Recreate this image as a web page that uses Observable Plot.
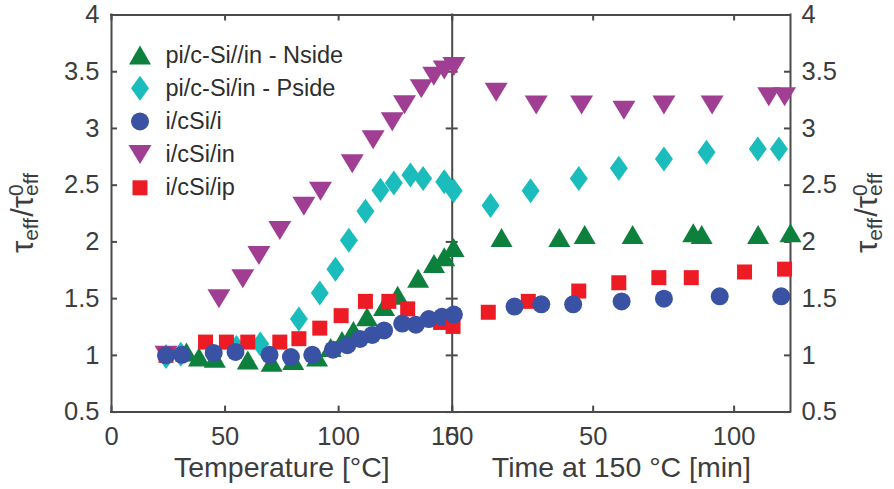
<!DOCTYPE html>
<html>
<head>
<meta charset="utf-8">
<script src="https://cdn.jsdelivr.net/npm/d3@7"></script>
<script src="https://cdn.jsdelivr.net/npm/@observablehq/plot@0.6"></script>
<style>
  body { margin: 0; background: #fff; }
  #wrap { position: relative; width: 894px; height: 489px; }
  #wrap svg { position: absolute; left: 0; top: 0; }
</style>
</head>
<body>
<div id="wrap"></div>
<script>
// ---------------- data ----------------
const seriesNames = ["pi/c-Si//in - Nside", "pi/c-Si/in - Pside", "i/cSi/i", "i/cSi/in", "i/cSi/ip"];

// pi/c-Si//in - Nside
const nsideTemp    = [33, 38.5, 45.5, 60, 70.5, 80, 90.5, 96.5, 101.5, 106.5, 112.5, 120, 126, 135, 142, 146.5];
const nsideTempVal = [1.03, 0.985, 0.975, 0.96, 0.94, 0.955, 0.985, 1.07, 1.13, 1.22, 1.34, 1.43, 1.53, 1.68, 1.81, 1.87];
const nsideTime    = [0.5, 17.5, 38, 47, 64, 85.5, 88.5, 108.5, 120];
const nsideTimeVal = [1.95, 2.04, 2.04, 2.065, 2.065, 2.08, 2.065, 2.065, 2.08];

// pi/c-Si/in - Pside
const psideTemp    = [24, 30.5, 55, 65.5, 82.5, 91.7, 98.6, 104.5, 111.8, 118.4, 124.3, 131.6, 137.2, 146.5];
const psideTempVal = [0.99, 1.01, 1.07, 1.10, 1.32, 1.55, 1.76, 2.015, 2.27, 2.455, 2.52, 2.59, 2.56, 2.53];
const psideTime    = [0.5, 13.6, 27.8, 44.9, 59.1, 75.1, 90.2, 108.4, 115.9];
const psideTimeVal = [2.45, 2.32, 2.45, 2.56, 2.65, 2.73, 2.79, 2.82, 2.82];

// i/cSi/i
const iiTemp    = [24, 31, 45, 54.6, 69.6, 79, 88.4, 97.5, 103.8, 109.4, 114.8, 120, 128, 134, 139.7, 145.5];
const iiTempVal = [1.0, 1.005, 1.02, 1.03, 1.005, 0.985, 1.005, 1.05, 1.09, 1.145, 1.18, 1.22, 1.28, 1.27, 1.32, 1.34];
const iiTime    = [0.6, 22.1, 31.6, 42.9, 60.1, 75.1, 94.9, 116.7];
const iiTimeVal = [1.36, 1.43, 1.45, 1.45, 1.475, 1.50, 1.52, 1.52];

// i/cSi/in
const inTemp    = [24, 47.3, 57.8, 64.9, 74.1, 84.7, 92, 106, 115.2, 123.6, 129, 136.4, 141.9, 146.5];
const inTempVal = [1.0, 1.50, 1.676, 1.88, 2.10, 2.315, 2.447, 2.69, 2.90, 3.06, 3.21, 3.35, 3.46, 3.515];
const inTime    = [0.6, 15.6, 29.8, 45.9, 60.9, 75.1, 92.2, 112.3, 117.9];
const inTimeVal = [3.545, 3.32, 3.206, 3.206, 3.16, 3.206, 3.206, 3.28, 3.28];

// i/cSi/ip
const ipTemp    = [24, 41.4, 50.6, 60, 74.1, 82.5, 91.7, 101.1, 111.8, 122.1, 130.4, 144.9];
const ipTempVal = [1.0, 1.117, 1.117, 1.117, 1.117, 1.147, 1.24, 1.35, 1.476, 1.476, 1.41, 1.29];
const ipTime    = [0.3, 12.8, 27, 44.9, 59.1, 73.3, 84.8, 103.7, 117.9];
const ipTimeVal = [1.255, 1.38, 1.476, 1.567, 1.64, 1.685, 1.685, 1.735, 1.76];

// axes
const yDomain = [0.5, 4];
const yTicks = [0.5, 1, 1.5, 2, 2.5, 3, 3.5, 4];
const tempDomain = [0, 150];
const tempTicks = [0, 50, 100, 150];
const timeDomain = [0, 120];
const timeTicks = [0, 50, 100];
const tempLabel = "Temperature [°C]";
const timeLabel = "Time at 150 °C [min]";

// ---------------- styles ----------------
const colors = ["#0e803e", "#1abcbc", "#3a52a4", "#a03e94", "#ed1c24"];
function poly(pts) {
  return { draw(ctx, size) {
    const k = Math.sqrt(size / Math.PI) / 9;
    ctx.moveTo(pts[0][0] * k, pts[0][1] * k);
    for (let i = 1; i < pts.length; i++) ctx.lineTo(pts[i][0] * k, pts[i][1] * k);
    ctx.closePath();
  }};
}
const triUp = poly([[0, -9.5], [11, 9.5], [-11, 9.5]]);
const diamond = poly([[0, -12.5], [9, 0], [0, 12.5], [-9, 0]]);
const circle = { draw(ctx, size) { const r = Math.sqrt(size / Math.PI); ctx.moveTo(r, 0); ctx.arc(0, 0, r, 0, 2 * Math.PI); } };
const triDown = poly([[0, 9.5], [11.5, -9.5], [-11.5, -9.5]]);
const square = poly([[-7.5, -7.5], [7.5, -7.5], [7.5, 7.5], [-7.5, 7.5]]);
const symbols = [triUp, diamond, circle, triDown, square];

const series = [
  { temp: nsideTemp, tempVal: nsideTempVal, time: nsideTime, timeVal: nsideTimeVal },
  { temp: psideTemp, tempVal: psideTempVal, time: psideTime, timeVal: psideTimeVal },
  { temp: iiTemp, tempVal: iiTempVal, time: iiTime, timeVal: iiTimeVal },
  { temp: inTemp, tempVal: inTempVal, time: inTime, timeVal: inTimeVal },
  { temp: ipTemp, tempVal: ipTempVal, time: ipTime, timeVal: ipTimeVal }
];
const drawOrder = [1, 0, 3, 4, 2];

const W = 894, H = 489;
const fTop = 14.5, fBottom = 411.6, fLeft = 111, fMid = 451.7, fRight = 790;
const frameH = fBottom - fTop;
const axisColor = "#4a4a4a";
const textColor = "#3d3d3d";
const font = "'Liberation Sans', Arial, Helvetica, sans-serif";
const tickLen = 6;
const sw = 2;

function dots(key, valKey) {
  return drawOrder.map(i => Plot.dot(series[i][key], {
    x: series[i][key], y: series[i][valKey], r: 9, symbol: symbols[i], fill: colors[i], stroke: "none"
  }));
}

function tickMarks(xTicks, frameW) {
  return [
    Plot.ruleX(xTicks, { stroke: axisColor, strokeWidth: sw, insetTop: frameH - tickLen }),
    Plot.ruleX(xTicks, { stroke: axisColor, strokeWidth: sw, insetBottom: frameH - tickLen }),
    Plot.ruleY(yTicks, { stroke: axisColor, strokeWidth: sw, insetRight: frameW - tickLen }),
    Plot.ruleY(yTicks, { stroke: axisColor, strokeWidth: sw, insetLeft: frameW - tickLen })
  ];
}

const baseStyle = { fontSize: "25.5px", fontFamily: font, color: textColor, background: "transparent", overflow: "visible" };

// ---------------- left panel ----------------
const legendMarks = [];
const legendOrder = [0, 1, 2, 3, 4];
legendOrder.forEach((i, row) => {
  legendMarks.push(Plot.dot([seriesNames[i]], {
    frameAnchor: "top-left", dx: 28.5, dy: 40 + row * 33.2, r: 9, symbol: symbols[i], fill: colors[i], stroke: "none"
  }));
  legendMarks.push(Plot.text([seriesNames[i]], {
    frameAnchor: "top-left", dx: 54, dy: 40 + row * 33.2, textAnchor: "start", lineAnchor: "middle",
    fontSize: 23.5, fill: "#2e2e2e"
  }));
});

const left = Plot.plot({
  width: W, height: H,
  marginLeft: fLeft, marginRight: W - fMid, marginTop: fTop, marginBottom: H - fBottom,
  style: baseStyle,
  x: { domain: tempDomain, ticks: tempTicks, tickSize: 0, tickPadding: 15, tickFormat: d => String(d), label: null },
  y: { domain: yDomain, ticks: yTicks, tickSize: 0, tickPadding: 12, tickFormat: d => String(d), label: null },
  marks: [
    Plot.ruleY(yDomain, { stroke: axisColor, strokeWidth: sw, strokeLinecap: "square" }),
    Plot.ruleX(tempDomain, { stroke: axisColor, strokeWidth: sw, strokeLinecap: "square" }),
    ...tickMarks(tempTicks, fMid - fLeft),
    Plot.text([tempLabel], { frameAnchor: "bottom", lineAnchor: "bottom", dy: 65, fontSize: 28.5, fill: textColor }),
    ...legendMarks,
    ...dots("temp", "tempVal")
  ]
});

// ---------------- right panel ----------------
const right = Plot.plot({
  width: W, height: H,
  marginLeft: fMid, marginRight: W - fRight, marginTop: fTop, marginBottom: H - fBottom,
  style: baseStyle,
  x: { domain: timeDomain, ticks: timeTicks, tickSize: 0, tickPadding: 15, tickFormat: d => String(d), label: null },
  y: { domain: yDomain, ticks: yTicks, axis: "right", tickSize: 0, tickPadding: 11, tickFormat: d => String(d), label: null },
  marks: [
    Plot.ruleY(yDomain, { stroke: axisColor, strokeWidth: sw, strokeLinecap: "square" }),
    Plot.ruleX([timeDomain[1]], { stroke: axisColor, strokeWidth: sw, strokeLinecap: "square" }),
    ...tickMarks(timeTicks, fRight - fMid),
    Plot.text([timeLabel], { frameAnchor: "bottom", lineAnchor: "bottom", dy: 65, fontSize: 28.5, fill: textColor }),
    ...dots("time", "timeVal")
  ]
});

const wrap = document.getElementById("wrap");
wrap.appendChild(left);
wrap.appendChild(right);

// y-axis titles: tau_eff / tau^0_eff
function yTitle(svg, x, y) {
  const t = d3.select(svg).append("text")
    .attr("transform", `translate(${x},${y}) rotate(-90)`)
    .attr("text-anchor", "middle")
    .attr("font-size", 31)
    .attr("font-family", font)
    .attr("fill", textColor);
  const sub = 21;
  t.append("tspan").text("τ");
  t.append("tspan").attr("font-size", sub).attr("dy", 5).text("eff");
  t.append("tspan").attr("dy", -5).attr("dx", 1).text("/τ");
  t.append("tspan").attr("font-size", sub).attr("dy", -10).text("0");
  t.append("tspan").attr("font-size", sub).attr("dx", -11.7).attr("dy", 15).text("eff");
}
yTitle(left, 33, (fTop + fBottom) / 2);
yTitle(right, 877, (fTop + fBottom) / 2);
</script>
</body>
</html>
